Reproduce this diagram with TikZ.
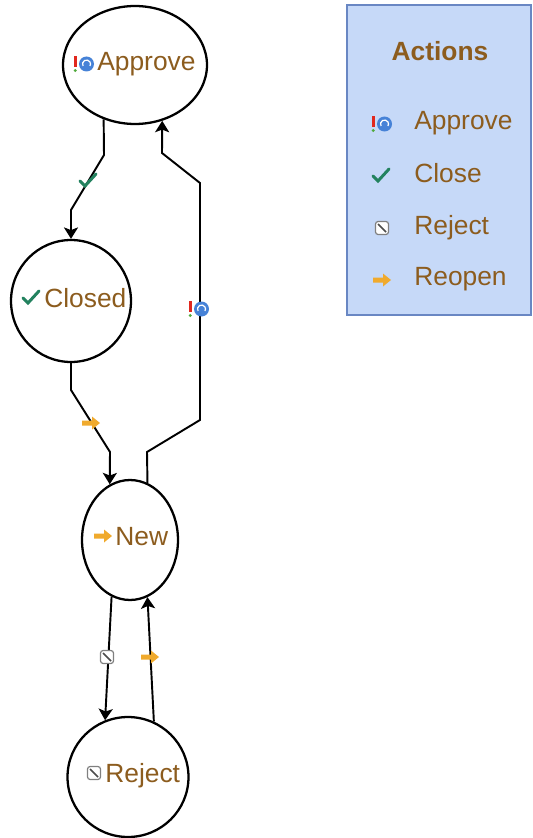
\documentclass[tikz,border=0pt]{standalone}
\usepackage{fontspec}
\setmainfont{Liberation Sans}
\usetikzlibrary{arrows.meta,shapes.geometric}
\definecolor{txtbrown}{RGB}{140,92,30}
\definecolor{legfill}{RGB}{198,217,248}
\definecolor{legline}{RGB}{105,135,195}
\definecolor{okgreen}{RGB}{35,130,95}
\definecolor{iconblue}{RGB}{70,130,215}
\definecolor{iconorange}{RGB}{240,170,45}
\definecolor{iconred}{RGB}{225,40,30}
\definecolor{icongreen}{RGB}{80,170,60}
\tikzset{
	state/.style={ellipse, draw=black, line width=1.3pt, inner sep=0pt},
	lbl/.style={anchor=mid west, inner sep=0pt, text=txtbrown, font=\fontsize{15}{18}\selectfont},
	trans/.style={draw=black, line width=1.1pt, -{Stealth[length=6.5pt,width=8pt,inset=1.5pt]}},
	legendbox/.style={rectangle, draw=legline, fill=legfill, line width=1pt, inner sep=0pt},
	approveicon/.pic={
		\fill[iconred] (-10,-8) rectangle (-7.5,3);
		\fill[icongreen] (-8.75,6.5) circle (1.7);
		\fill[iconblue] (2.5,0) circle (7.5);
		\draw[white, line width=0.7pt] (2.5,0) ++(150:4) arc (150:390:4);
	},
	closeicon/.pic={
		\draw[okgreen, line width=1.7pt, line cap=round] (-8,0) -- (-3,5) -- (8,-7);
	},
	rejecticon/.pic={
		\draw[gray, fill=white, line width=0.7pt, rounded corners=1.5pt] (-6.5,-6.5) rectangle (6.5,6.5);
		\draw[black!70, line width=0.9pt] (-4,-4) -- (4,4);
	},
	reopenicon/.pic={
		\fill[iconorange] (-9,-2.5) -- (1,-2.5) -- (1,-6.5) -- (9,0) -- (1,6.5) -- (1,2.5) -- (-9,2.5) -- cycle;
	}
}
\begin{document}
\begin{tikzpicture}[x=0.02cm, y=-0.02cm]
	\useasboundingbox (0,0) rectangle (533,838);
	% states
	\node[state, minimum width=2.88cm, minimum height=2.36cm] (approve) at (135,65) {};
	\node[state, minimum width=2.4cm, minimum height=2.44cm] (closed) at (71,301) {};
	\node[state, minimum width=1.92cm, minimum height=2.4cm] (new) at (130,540) {};
	\node[state, minimum width=2.42cm, minimum height=2.4cm] (reject) at (128,777) {};
	\node[lbl] (approvetxt) at (97,66) {Approve};
	\pic at (84,64) {approveicon};
	\node[lbl] (closedtxt) at (44,303) {Closed};
	\pic at (31,298) {closeicon};
	\node[lbl] (newtxt) at (115,541) {New};
	\pic at (103,536) {reopenicon};
	\node[lbl] (rejecttxt) at (105,778) {Reject};
	\pic at (94,773) {rejecticon};
	% transitions
	\coordinate (ac1) at (104,155);
	\coordinate (ac2) at (71,210);
	\draw[trans] (approve.240) -- (ac1) -- (ac2) -- (closed.90);
	\pic at (88,181) {closeicon};
	\coordinate (cn1) at (71,390);
	\coordinate (cn2) at (110,452);
	\draw[trans] (closed.270) -- (cn1) -- (cn2) -- (new.110);
	\pic at (91,423) {reopenicon};
	\coordinate (na1) at (147,452);
	\coordinate (na2) at (200,420);
	\coordinate (na3) at (200,183);
	\coordinate (na4) at (162,153);
	\draw[trans] (new.73) -- (na1) -- (na2) -- (na3) -- (na4) -- (approve.296);
	\pic at (199,309) {approveicon};
	\draw[trans] (new.252) -- (reject.112.5);
	\pic at (107,657) {rejecticon};
	\draw[trans] (reject.65.4) -- (new.287);
	\pic at (150,657) {reopenicon};
	% legend
	\node[legendbox, minimum width=3.68cm, minimum height=6.2cm] (legend) at (439,160) {};
	\node[lbl, anchor=mid, font=\bfseries\fontsize{15}{18}\selectfont] (legtitle) at (440,56) {Actions};
	\pic at (382,124) {approveicon};
	\node[lbl] (legapprove) at (414,125) {Approve};
	\pic at (381,176) {closeicon};
	\node[lbl] (legclose) at (414,178) {Close};
	\pic at (382,228) {rejecticon};
	\node[lbl] (legreject) at (414,230) {Reject};
	\pic at (382,280) {reopenicon};
	\node[lbl] (legreopen) at (414,281) {Reopen};
\end{tikzpicture}
\end{document}
